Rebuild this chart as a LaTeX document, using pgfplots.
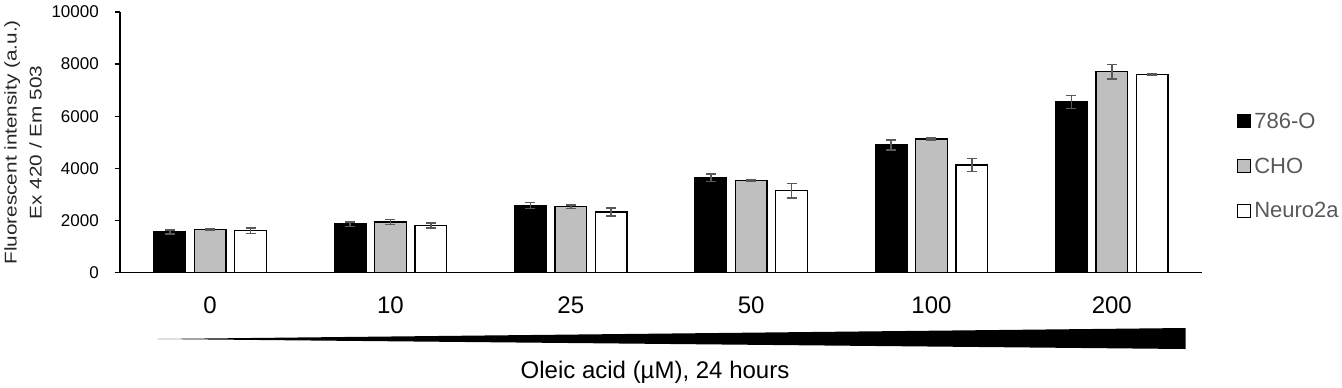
\documentclass[border=0pt]{standalone}
\usepackage{fontspec}
\setmainfont{Liberation Sans}
\usepackage{graphicx}
\usepackage{pgfplots}
\pgfplotsset{compat=1.18}
\definecolor{barg}{HTML}{BFBFBF}
\definecolor{errg}{HTML}{595959}
\definecolor{legg}{HTML}{595959}
\definecolor{labg}{HTML}{262626}
\begin{document}
\begin{tikzpicture}[x=1bp,y=1bp]
\useasboundingbox (-120,-114.3) rectangle (1222,272.7);
\begin{axis}[
 at={(0,0)}, anchor=south west,
 scale only axis, width=1082bp, height=260.7bp,
 xmin=-0.5, xmax=5.5, ymin=0, ymax=10000,
 clip=false,
 ybar, bar width=0.176,
 axis x line*=bottom, axis y line*=left,
 axis line style={-,line width=1.4bp,black},
 xtick={0,1,2,3,4,5}, xticklabels={0,10,25,50,100,200},
 xtick style={draw=none},
 ytick={0,2000,4000,6000,8000,10000},
 ytick style={line width=1.3bp, black},
 tick align=outside, major tick length=5bp,
 scaled y ticks=false,
 /pgf/number format/assume math mode=true,
 /pgf/number format/1000 sep={},
 yticklabel style={font=\fontsize{17bp}{20bp}\selectfont, anchor=east, inner sep=0pt, xshift=-16bp, text=black},
 xticklabel style={font=\fontsize{24bp}{28bp}\selectfont, anchor=north, inner sep=0pt, yshift=-19bp, text=black},
 ylabel={\scalebox{1.22}[1]{Fluorescent intensity (a.u.)}\\\scalebox{1.22}[1]{Ex 420 / Em 503}},
 every axis y label/.style={at={(axis description cs:-0.0896,0.5)}, rotate=90, anchor=center, align=center, font=\fontsize{17bp}{25bp}\selectfont, text=labg},
 xlabel={Oleic acid (µM), 24 hours},
 every axis x label/.style={at={(axis description cs:0.4945,-0.4077)}, anchor=base, font=\fontsize{24bp}{28bp}\selectfont, text=black},
 legend style={at={(1.0323,0.409)}, anchor=west, draw=none, fill=none, inner sep=0pt,
   font=\fontsize{22bp}{26bp}\selectfont, text=legg, row sep=28bp, column sep=3bp,
   nodes={inner sep=0pt}},
 legend cell align=left,
 legend image code/.code={\draw[#1,line width=1.2bp] (0bp,-6.5bp) rectangle (13bp,6.5bp);},
]
\addplot[fill=black, draw=black, line width=1.3bp, bar shift=-0.2243,
 error bars/.cd, y dir=both, y explicit,
 error bar style={line width=1.6bp, errg},
 error mark options={rotate=90, mark size=5bp, line width=1.6bp, errg}]
 table[x=x, y=y, y error=e] {
x y e
0 1559 70
1 1865 90
2 2579 115
3 3644 146
4 4898 185
5 6548 256
};
\addlegendentry{786-O}
\addplot[fill=barg, draw=black, line width=1.3bp, bar shift=0,
 error bars/.cd, y dir=both, y explicit,
 error bar style={line width=1.6bp, errg},
 error mark options={rotate=90, mark size=5bp, line width=1.6bp, errg}]
 table[x=x, y=y, y error=e] {
x y e
0 1648 30
1 1942 95
2 2528 70
3 3544 20
4 5128 30
5 7710 281
};
\addlegendentry{CHO}
\addplot[fill=white, draw=black, line width=1.3bp, bar shift=0.2243,
 error bars/.cd, y dir=both, y explicit,
 error bar style={line width=1.6bp, errg},
 error mark options={rotate=90, mark size=5bp, line width=1.6bp, errg}]
 table[x=x, y=y, y error=e] {
x y e
0 1609 110
1 1812 100
2 2325 160
3 3146 281
4 4131 256
5 7595 20
};
\addlegendentry{Neuro2a}
\fill[black] (axis cs:-0.293,-2543) -- (axis cs:5.41,-2121) -- (axis cs:5.41,-2927) -- cycle;
\end{axis}
\end{tikzpicture}
\end{document}
